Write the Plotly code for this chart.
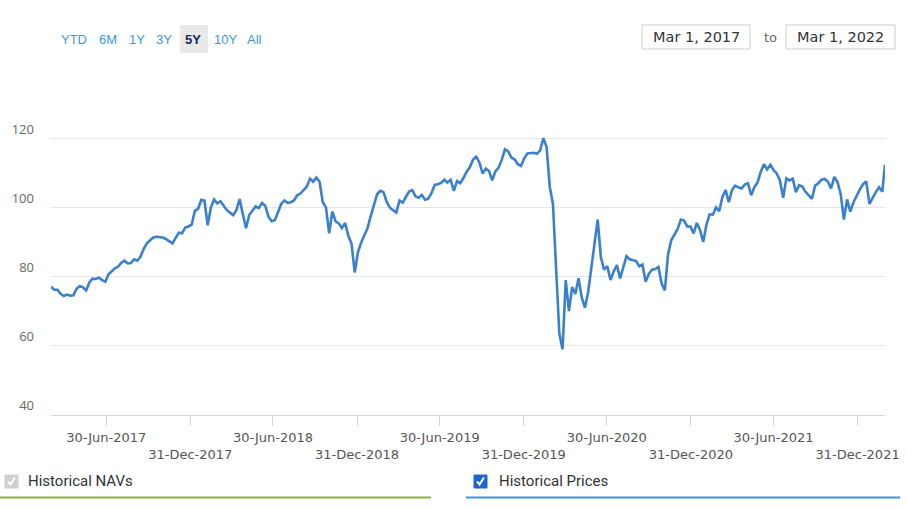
import plotly.graph_objects as go
import pandas as pd

# ---------------- data ----------------
week_dates = pd.date_range("2017-03-01", periods=261, freq="7D")
price_values = [
    77.1, 76.2, 76.2, 75.0, 74.4, 74.8, 74.5, 74.6, 76.5, 77.3,
    76.9, 76.0, 78.3, 79.4, 79.3, 79.7, 79.0, 78.5, 80.7, 81.7,
    82.4, 82.9, 84.0, 84.6, 83.8, 83.9, 85.0, 84.6, 85.8, 88.0,
    89.6, 90.5, 91.3, 91.5, 91.5, 91.3, 90.8, 90.3, 89.6, 91.2,
    92.7, 92.5, 94.2, 94.5, 95.0, 99.0, 99.6, 102.2, 102.0, 94.8,
    100.0, 102.3, 101.2, 101.8, 100.4, 99.2, 98.5, 97.8, 99.2, 102.4,
    98.0, 94.0, 97.8, 99.1, 100.3, 99.8, 101.3, 100.5, 97.4, 96.0,
    96.3, 98.6, 101.0, 102.0, 101.3, 101.5, 102.0, 103.5, 104.0, 105.0,
    106.0, 108.3, 107.4, 108.6, 107.5, 101.5, 100.0, 92.5, 98.8, 96.0,
    95.4, 94.0, 95.5, 91.8, 89.5, 81.2, 87.0, 89.8, 91.8, 94.0,
    97.5, 100.5, 103.8, 104.8, 104.4, 101.6, 99.9, 99.2, 98.5, 102.0,
    101.4, 103.0, 104.6, 105.0, 103.2, 102.8, 103.6, 102.2, 102.5, 104.1,
    106.5, 106.7, 107.1, 108.0, 107.2, 108.0, 104.8, 107.6, 107.0, 108.5,
    110.3, 111.6, 113.8, 114.6, 113.0, 109.8, 111.2, 110.5, 107.8, 110.4,
    111.5, 113.8, 116.8, 116.2, 114.4, 113.9, 112.5, 112.0, 114.2, 115.6,
    115.7, 115.8, 115.5, 116.5, 120.0, 117.5, 106.0, 101.0, 82.0, 63.5,
    59.0, 79.0, 70.0, 77.0, 75.0, 79.5, 74.0, 71.0, 75.5, 82.5,
    88.5, 96.5, 85.5, 82.0, 83.0, 79.0, 81.5, 83.3, 79.5, 82.8,
    85.9, 85.0, 84.8, 84.5, 83.0, 83.5, 78.5, 80.8, 82.0, 82.2,
    82.8, 78.0, 76.0, 86.5, 90.5, 92.0, 93.8, 96.5, 96.2, 94.5,
    94.5, 92.5, 95.5, 93.5, 90.0, 95.0, 98.0, 97.9, 100.0, 98.9,
    103.0, 105.0, 101.5, 105.0, 106.3, 105.8, 105.5, 106.6, 107.0, 103.5,
    105.8, 107.2, 110.3, 112.5, 111.0, 112.3, 110.8, 109.8, 107.8, 102.8,
    108.4, 107.8, 108.3, 104.4, 106.4, 106.0, 104.5, 103.5, 102.5, 106.3,
    107.0, 108.0, 108.2, 107.4, 105.5, 108.8, 107.3, 103.8, 96.5, 102.3,
    98.8, 101.5, 103.4, 105.2, 106.7, 107.5, 101.0, 102.9, 104.5, 105.8,
    104.5,
]
final_date = "2022-03-01"
final_value = 112.3

tick_dates = ["2017-06-30", "2017-12-31", "2018-06-30", "2018-12-31", "2019-06-30",
              "2019-12-31", "2020-06-30", "2020-12-31", "2021-06-30", "2021-12-31"]
tick_labels = ["30-Jun-2017", "31-Dec-2017", "30-Jun-2018", "31-Dec-2018", "30-Jun-2019",
               "31-Dec-2019", "30-Jun-2020", "31-Dec-2020", "30-Jun-2021", "31-Dec-2021"]
y_ticks = [40, 60, 80, 100, 120, 140]
y_labels = ["40", "60", "80", "100", "120", ""]
range_buttons = ["YTD", "6M", "1Y", "3Y", "5Y", "10Y", "All"]
selected_button = "5Y"
range_from = "Mar 1, 2017"
range_to = "Mar 1, 2022"
legend_items = ["Historical NAVs", "Historical Prices"]

dates = list(week_dates.strftime("%Y-%m-%d")) + [final_date]
values = price_values + [final_value]

# ---------------- layout helpers ----------------
W, H = 907, 509
L, R, T, B = 51, 885, 69, 415


def px(x):
    return (x - L) / (R - L)


def py(y):
    return (B - y) / (B - T)


# staggered tick labels
stagger_text = [lab if i % 2 == 0 else "<br>" + lab for i, lab in enumerate(tick_labels)]

fig = go.Figure()
fig.add_trace(go.Scatter(
    x=dates, y=values, mode="lines",
    line=dict(color="#3a80cc", width=2.6),
    showlegend=False, hoverinfo="x+y",
))

shapes = []
annotations = []

# range selector buttons
btn_centers = [74, 107.5, 136.5, 164, 192.5, 225.5, 254]
for lab, cx in zip(range_buttons, btn_centers):
    sel = lab == selected_button
    if sel:
        shapes.append(dict(type="rect", xref="paper", yref="paper",
                           x0=px(180), x1=px(208), y0=py(53), y1=py(25),
                           fillcolor="#e9e9e9", line=dict(width=0), layer="below"))
    annotations.append(dict(
        x=px(cx), y=py(39), xref="paper", yref="paper", showarrow=False,
        xanchor="center", yanchor="middle",
        text=f"<b>{lab}</b>" if sel else lab,
        font=dict(family="Liberation Sans, Arial", size=13,
                  color="#0b2e63" if sel else "#3a9ad9"),
    ))

# date input boxes
for x0, x1, txt in [(642, 750, range_from), (786, 895, range_to)]:
    shapes.append(dict(type="rect", xref="paper", yref="paper",
                       x0=px(x0), x1=px(x1), y0=py(49), y1=py(25),
                       fillcolor="white", line=dict(color="#cccccc", width=1)))
    annotations.append(dict(
        x=px((x0 + x1) / 2), y=py(37), xref="paper", yref="paper", showarrow=False,
        xanchor="center", yanchor="middle", text=txt,
        font=dict(family="DejaVu Sans", size=14.5, color="#333333"),
    ))
annotations.append(dict(
    x=px(770), y=py(37), xref="paper", yref="paper", showarrow=False,
    xanchor="center", yanchor="middle", text="to",
    font=dict(family="DejaVu Sans", size=13, color="#666666"),
))

# bottom toggles
toggle_specs = [
    (legend_items[0], 5, 26, "#cfcfcf", "#8fad3f", 0, 431),
    (legend_items[1], 474, 497, "#1f66cc", "#3f8fd9", 466, 900),
]
for name, bx, tx, boxcol, linecol, lx0, lx1 in toggle_specs:
    shapes.append(dict(type="rect", xref="paper", yref="paper",
                       x0=px(bx), x1=px(bx + 13), y0=py(488), y1=py(475),
                       fillcolor=boxcol, line=dict(color=boxcol, width=1)))
    shapes.append(dict(type="path", xref="paper", yref="paper",
                       path=f"M {px(bx + 3)},{py(481.5)} L {px(bx + 5.5)},{py(484.5)} L {px(bx + 10)},{py(477.5)}",
                       line=dict(color="white", width=2)))
    annotations.append(dict(
        x=px(tx), y=py(481), xref="paper", yref="paper", showarrow=False,
        xanchor="left", yanchor="middle", text=name,
        font=dict(family="Roboto", size=15, color="#333333"),
    ))
    shapes.append(dict(type="line", xref="paper", yref="paper",
                       x0=px(lx0), x1=px(lx1), y0=py(497.5), y1=py(497.5),
                       line=dict(color=linecol, width=2)))

fig.update_layout(
    width=W, height=H,
    margin=dict(l=L, r=W - R, t=T, b=H - B, autoexpand=False),
    paper_bgcolor="white", plot_bgcolor="white",
    shapes=shapes, annotations=annotations,
    xaxis=dict(
        type="date", range=["2017-03-01", "2022-03-01"],
        tickvals=tick_dates, ticktext=stagger_text, tickangle=0,
        showgrid=False, showline=True, linecolor="#ccd6eb", linewidth=1,
        ticks="outside", ticklen=10, tickcolor="#ccd6eb", tickwidth=1,
        tickfont=dict(family="DejaVu Sans", size=13, color="#555555"),
        zeroline=False, fixedrange=True, automargin=False,
    ),
    yaxis=dict(
        range=[40, 140], tickvals=y_ticks, ticktext=y_labels,
        showgrid=True, gridcolor="#e6e6e6", gridwidth=1,
        showline=False, zeroline=False, ticks="",
        ticklabelposition="outside top", ticklabelstandoff=16,
        tickfont=dict(family="Open Sans", size=13, color="#666666"),
        fixedrange=True, automargin=False,
    ),
    hovermode="x",
)

fig.write_html("out.html")
